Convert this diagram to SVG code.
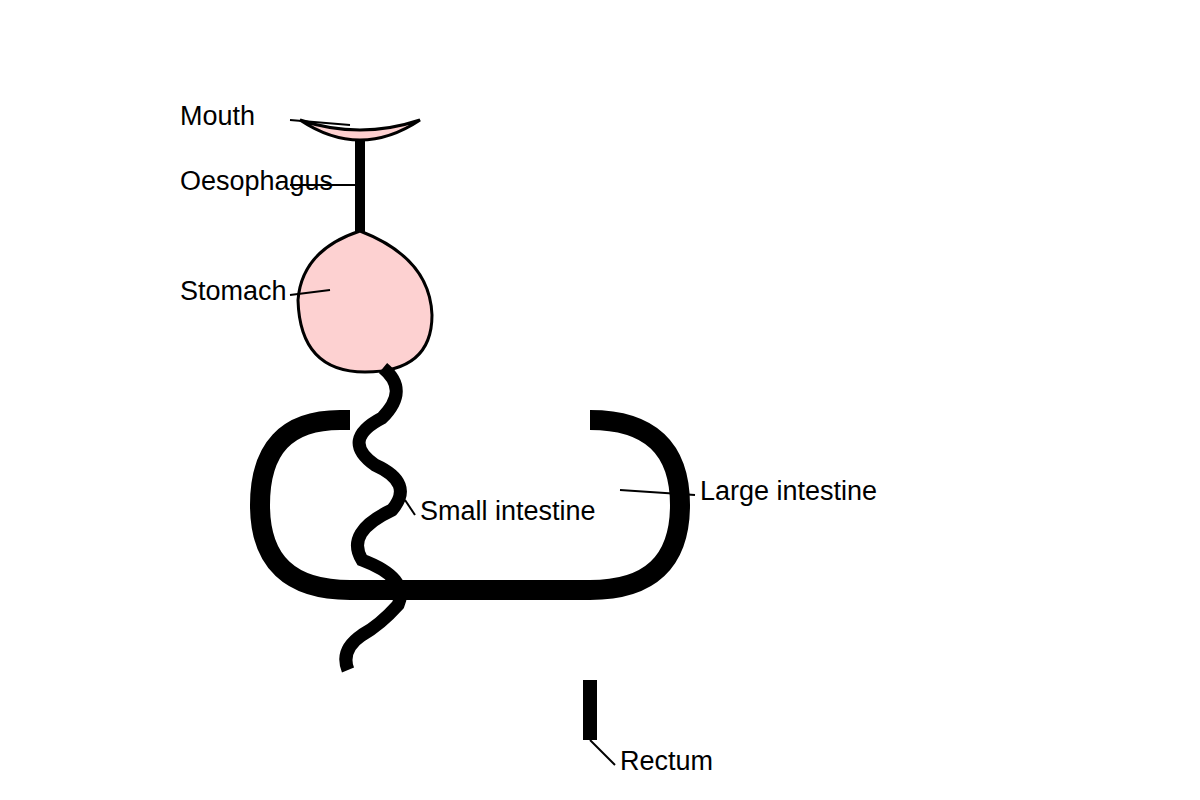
<svg xmlns="http://www.w3.org/2000/svg" width="1200" height="800" viewBox="0 0 1200 800">
<style>
text{font-family:"Liberation Sans",Arial,sans-serif;font-size:27px;fill:#000}
.lead{stroke:#000;stroke-width:2;fill:none}
.organ{fill:#fdd1d1;stroke:#000;stroke-width:3}
</style>
<rect width="1200" height="800" fill="#fff"/>
<g id="mouth"><path class="organ" d="M300,120 Q360,140 420,120 Q360,160 300,120 Z"/></g>
<g id="oesophagus"><rect x="355" y="140" width="10" height="92" fill="#000"/></g>
<g id="stomach"><path class="organ" d="M360,231 Q430,258 432,315 Q432,372 365,372 Q300,372 298,300 Q302,250 360,231 Z"/></g>
<g id="small-intestine"><path d="M383,368 Q410,390 382,418 Q340,440 375,465 Q415,483 392,510 Q345,532 362,560 Q410,578 398,605 Q380,625 362,635 Q340,650 348,670" fill="none" stroke="#000" stroke-width="13"/></g>
<g id="large-intestine"><path d="M350,420 L340,420 Q260,420 260,505 Q260,590 350,590 L590,590 Q680,590 680,505 Q680,420 590,420" fill="none" stroke="#000" stroke-width="20"/></g>
<g id="rectum"><rect x="583" y="680" width="14" height="60" fill="#000"/></g>
<g id="connectors">
<line class="lead" x1="290" y1="120" x2="350" y2="125"/>
<line class="lead" x1="290" y1="185" x2="358" y2="185"/>
<line class="lead" x1="290" y1="295" x2="330" y2="290"/>
<line class="lead" x1="415" y1="515" x2="405" y2="500"/>
<line class="lead" x1="620" y1="490" x2="695" y2="495"/>
<line class="lead" x1="615" y1="765" x2="590" y2="740"/>
</g>
<text x="180" y="125">Mouth</text>
<text x="180" y="190">Oesophagus</text>
<text x="180" y="300">Stomach</text>
<text x="420" y="520">Small intestine</text>
<text x="700" y="500">Large intestine</text>
<text x="620" y="770">Rectum</text>
</svg>
